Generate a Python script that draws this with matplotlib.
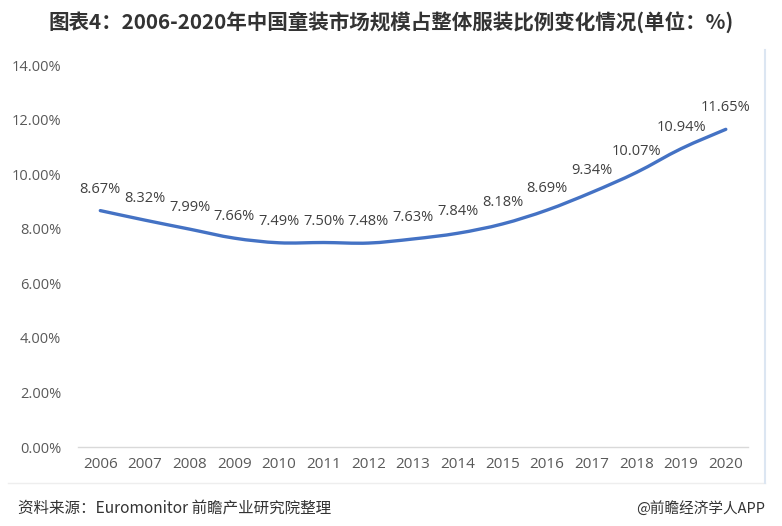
import matplotlib.pyplot as plt
from matplotlib.path import Path
from matplotlib.patches import PathPatch
from matplotlib.lines import Line2D
import numpy as np

plt.rcParams['font.family'] = ['Noto Sans CJK SC', 'DejaVu Sans']

years = ['2006', '2007', '2008', '2009', '2010', '2011', '2012', '2013',
         '2014', '2015', '2016', '2017', '2018', '2019', '2020']
share = [8.67, 8.32, 7.99, 7.66, 7.49, 7.50, 7.48, 7.63,
         7.84, 8.18, 8.69, 9.34, 10.07, 10.94, 11.65]
yticks = [0, 2, 4, 6, 8, 10, 12, 14]

fig = plt.figure(figsize=(7.82, 5.26), dpi=100)
ax = fig.add_axes([0.0997, 0.150, 0.857, 0.726])

x = np.arange(len(years))
y = np.array(share)

# smoothed line (Excel-style) drawn as cubic bezier through the data points
verts = [(x[0], y[0])]
codes = [Path.MOVETO]
for i in range(len(x) - 1):
    p0 = (x[max(i - 1, 0)], y[max(i - 1, 0)])
    p1 = (x[i], y[i])
    p2 = (x[i + 1], y[i + 1])
    p3 = (x[min(i + 2, len(x) - 1)], y[min(i + 2, len(x) - 1)])
    c1 = (p1[0] + (p2[0] - p0[0]) / 6, p1[1] + (p2[1] - p0[1]) / 6)
    c2 = (p2[0] - (p3[0] - p1[0]) / 6, p2[1] - (p3[1] - p1[1]) / 6)
    verts += [c1, c2, p2]
    codes += [Path.CURVE4] * 3
ax.add_patch(PathPatch(Path(verts, codes), facecolor='none', edgecolor='#4472C4',
                       lw=2.4, capstyle='round', joinstyle='round'))

num_font = ['Open Sans', 'DejaVu Sans']
for xi, yi in zip(x, y):
    ax.annotate(f'{yi:.2f}%', (xi, yi), xytext=(0, 10), textcoords='offset points',
                ha='center', va='bottom', fontsize=10.5, color='#404040',
                family=num_font)

ax.set_xlim(-0.5, len(years) - 0.5)
ax.set_ylim(0, 14)
ax.set_xticks(x)
ax.set_xticklabels(years, family=num_font, fontsize=11)
ax.set_yticks(yticks)
ax.set_yticklabels([f'{v:.2f}%' for v in yticks], family=num_font, fontsize=10.5)
ax.tick_params(axis='both', length=0, colors='#595959')
ax.tick_params(axis='y', pad=12)
ax.tick_params(axis='x', pad=7)
for s in ['top', 'right', 'left']:
    ax.spines[s].set_visible(False)
ax.spines['bottom'].set_color('#d9d9d9')
ax.spines['bottom'].set_linewidth(1)

fig.text(0.5, 0.958, '图表4：2006-2020年中国童装市场规模占整体服装比例变化情况(单位：%)',
         ha='center', va='center', fontsize=14.8, fontweight='bold', color='#333333')

fig.add_artist(Line2D([0.01, 0.978], [0.082, 0.082], color='#eeeeee', lw=1))
fig.add_artist(Line2D([0.978, 0.978], [0.082, 0.905], color='#dce6f2', lw=1.5))

fig.text(0.023, 0.034, '资料来源：Euromonitor 前瞻产业研究院整理', ha='left', va='center',
         fontsize=11.2, color='#333333')
fig.text(0.978, 0.034, '@前瞻经济学人APP', ha='right', va='center',
         fontsize=10.5, color='#333333')

fig.savefig('out.png', dpi=100)
